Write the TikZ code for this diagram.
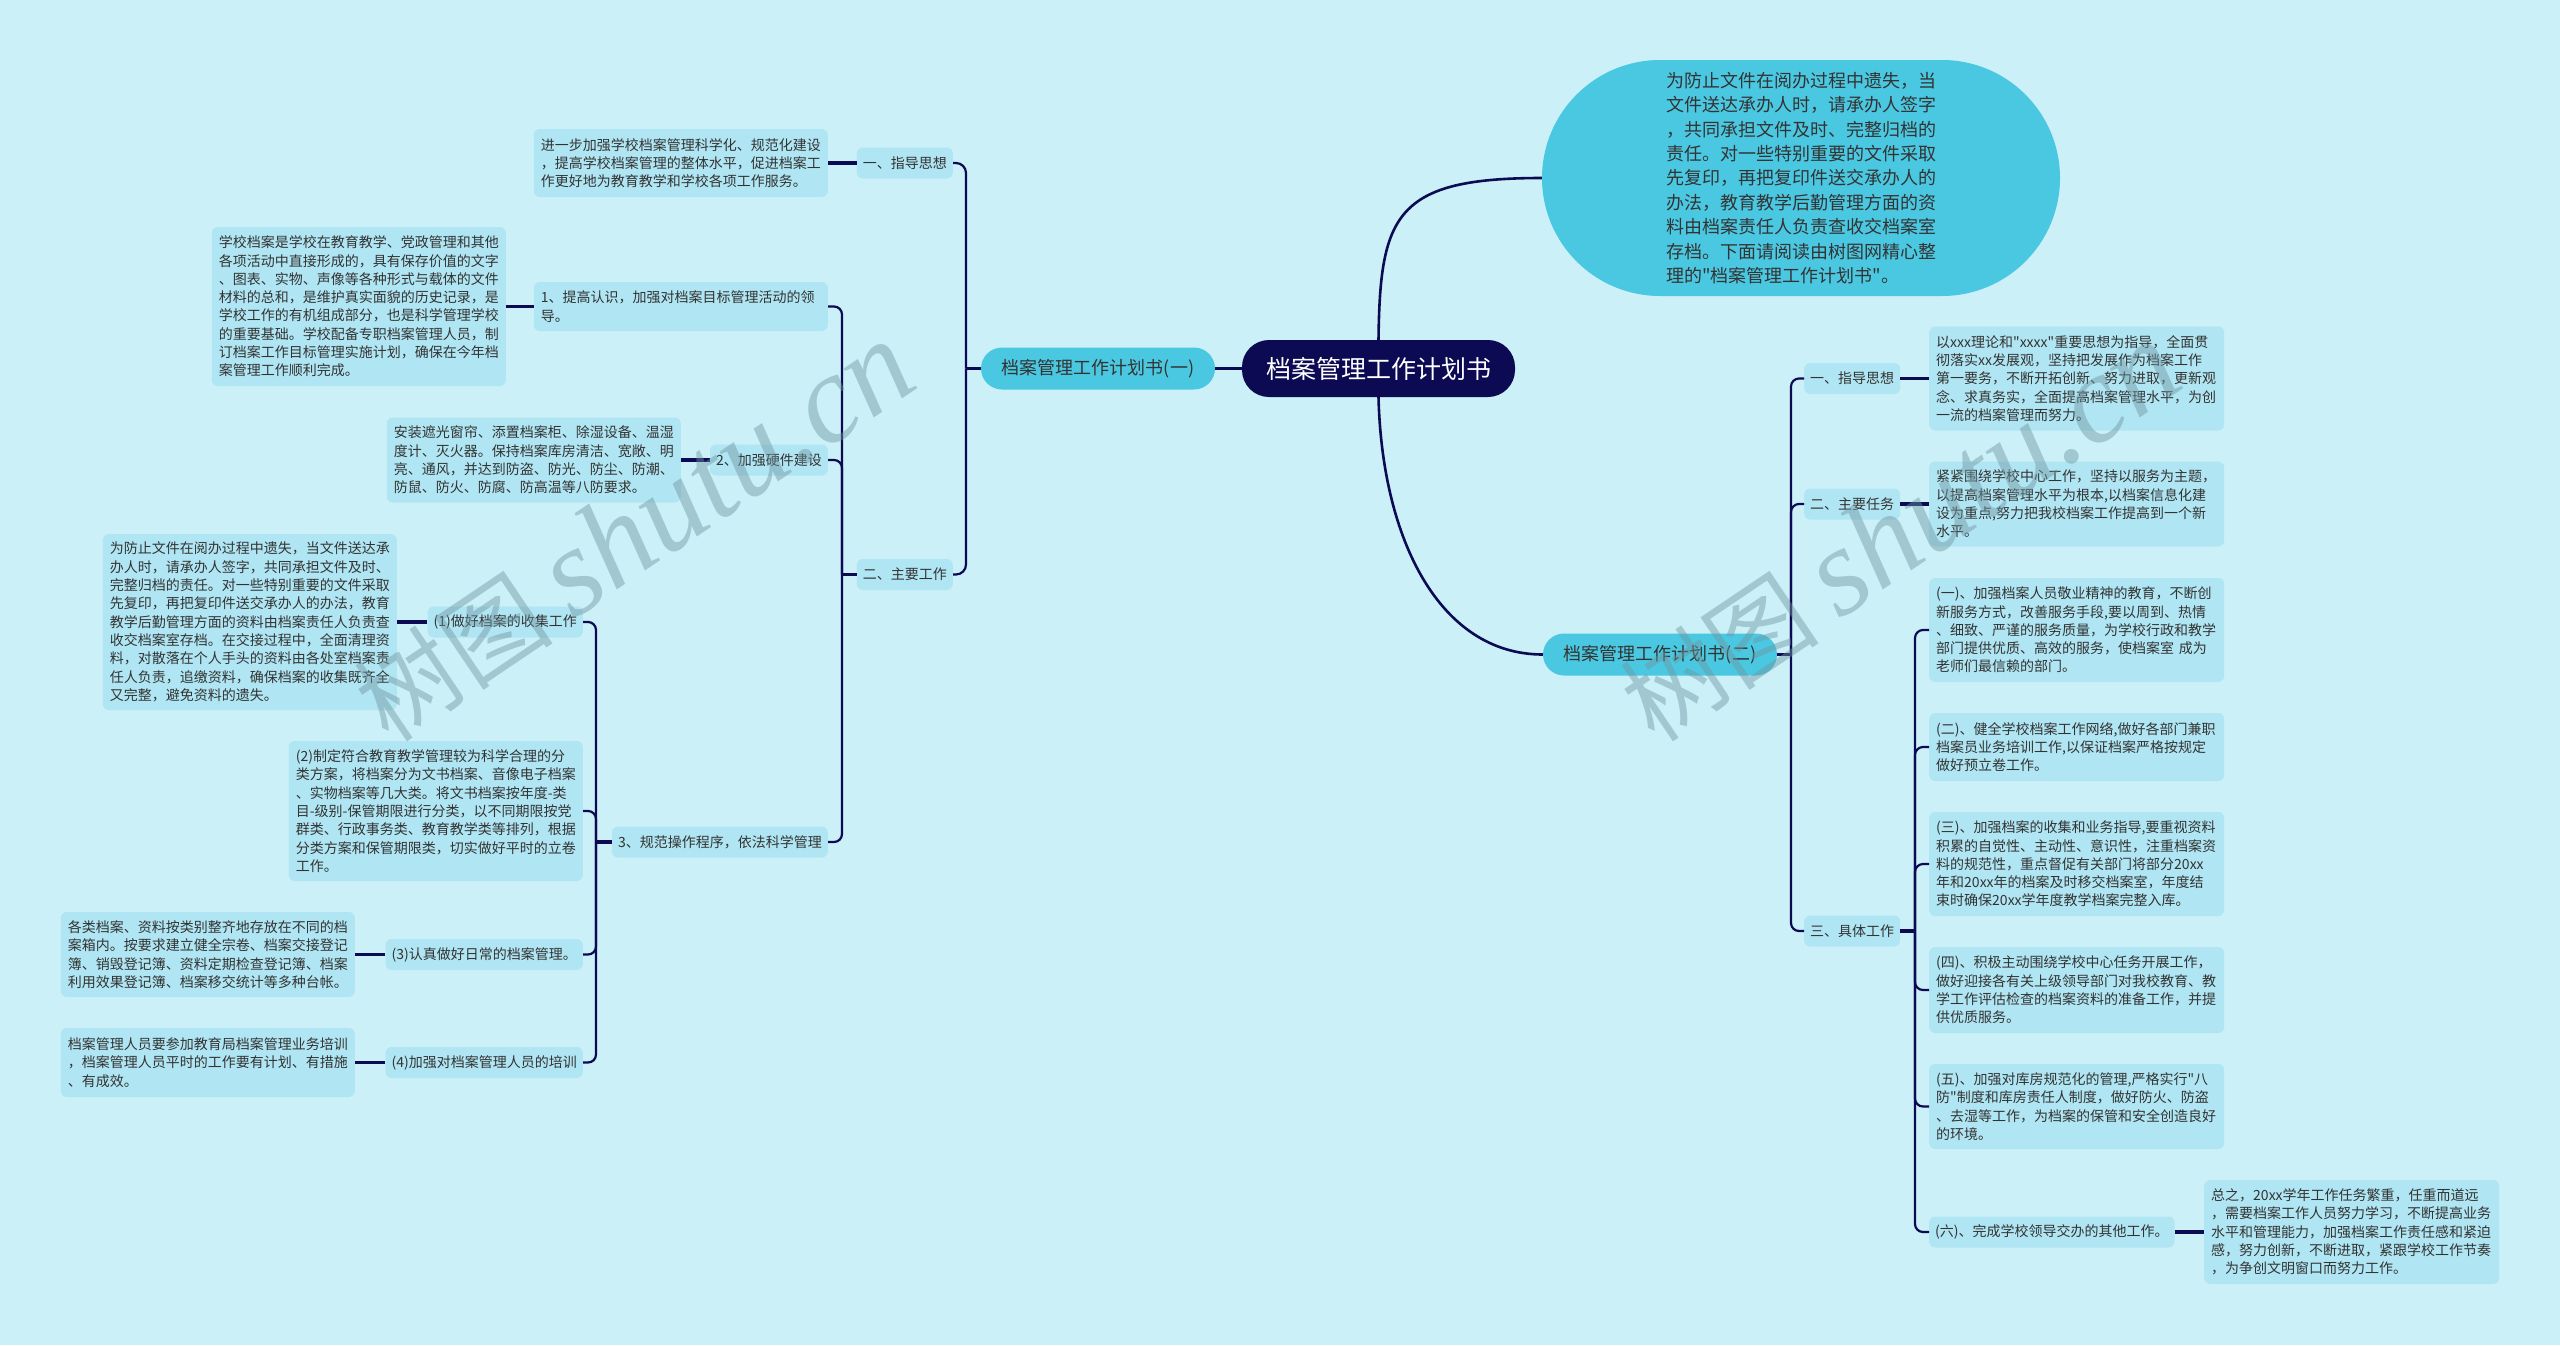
\documentclass[tikz,border=0pt]{standalone}
\usepackage{fontspec}
\setmainfont[Ligatures=TeXOff]{Noto Sans CJK SC}
\newfontfamily\wmlat{Liberation Serif}
\definecolor{bg}{RGB}{203,240,248}
\definecolor{leafc}{RGB}{176,230,243}
\definecolor{lvlc}{RGB}{75,200,225}
\definecolor{navy}{RGB}{12,10,82}
\definecolor{txt}{RGB}{51,51,51}
\definecolor{wm}{RGB}{110,150,160}
\tikzset{
 leafbox/.style={fill=leafc, rounded corners=6pt, text=txt, align=left, inner xsep=7pt, inner ysep=0pt, font=\fontsize{14pt}{18.3pt}\selectfont},
 sub/.style={fill=leafc, rounded corners=6pt, text=txt, inner xsep=6pt, inner ysep=0pt, minimum height=31pt, font=\fontsize{14pt}{18pt}\selectfont},
 lvlone/.style={fill=lvlc, rounded corners=21pt, text=txt, minimum width=234pt, minimum height=42pt, font=\fontsize{18pt}{22pt}\selectfont},
 rootbox/.style={fill=navy, rounded corners=27pt, text=white, minimum width=273pt, minimum height=57pt, font=\fontsize{25pt}{30pt}\selectfont},
 bubble/.style={fill=lvlc, rounded corners=118pt, text=txt, minimum width=518pt, minimum height=236pt, align=left, font=\fontsize{18pt}{24.4pt}\selectfont},
 conn/.style={draw=navy, line width=2.2pt},
 branch/.style={draw=navy, line width=2.6pt},
 stub/.style={draw=navy, line width=3.4pt},
 wmark/.style={text=wm, opacity=0.45, rotate=34, anchor=west, inner sep=0pt},
}
\begin{document}
\begin{tikzpicture}[x=1pt,y=-1pt]
\fill[bg] (0,0) rectangle (2560,1345);
\useasboundingbox (0,0) rectangle (2560,1345);

% root and level one
\node[rootbox] (root) at (1378.5,368.5) {档案管理工作计划书};
\node[lvlone] (n1) at (1098,368.5) {档案管理工作计划书(一)};
\node[lvlone] (n2) at (1660,654.5) {档案管理工作计划书(二)};
\node[bubble] (bub) at (1801,178) {为防止文件在阅办过程中遗失，当\\文件送达承办人时，请承办人签字\\，共同承担文件及时、完整归档的\\责任。对一些特别重要的文件采取\\先复印，再把复印件送交承办人的\\办法，教育教学后勤管理方面的资\\料由档案责任人负责查收交档案室\\存档。下面请阅读由树图网精心整\\理的"档案管理工作计划书"。};

% left side
\node[sub, anchor=east] (lg) at (953,163) {一、指导思想};
\node[leafbox, anchor=east, text width=280pt, minimum height=68pt] (la) at (828,163) {进一步加强学校档案管理科学化、规范化建设\\，提高学校档案管理的整体水平，促进档案工\\作更好地为教育教学和学校各项工作服务。};
\node[sub, anchor=east] (lm) at (953,574.5) {二、主要工作};

\node[leafbox, anchor=east, text width=280pt, minimum height=49pt] (s1) at (828,306.5) {1、提高认识，加强对档案目标管理活动的领\\导。};
\node[leafbox, anchor=east, text width=280pt, minimum height=159pt] (s1l) at (506,306.5) {学校档案是学校在教育教学、党政管理和其他\\各项活动中直接形成的，具有保存价值的文字\\、图表、实物、声像等各种形式与载体的文件\\材料的总和，是维护真实面貌的历史记录，是\\学校工作的有机组成部分，也是科学管理学校\\的重要基础。学校配备专职档案管理人员，制\\订档案工作目标管理实施计划，确保在今年档\\案管理工作顺利完成。};
\node[sub, anchor=east] (s2) at (828,460) {2、加强硬件建设};
\node[leafbox, anchor=east, text width=280pt, minimum height=85pt] (s2l) at (681,460) {安装遮光窗帘、添置档案柜、除湿设备、温湿\\度计、灭火器。保持档案库房清洁、宽敞、明\\亮、通风，并达到防盗、防光、防尘、防潮、\\防鼠、防火、防腐、防高温等八防要求。};
\node[sub, anchor=east] (s3) at (828,842) {3、规范操作程序，依法科学管理};

\node[sub, anchor=east] (t1) at (583,622) {(1)做好档案的收集工作};
\node[leafbox, anchor=east, text width=280pt, minimum height=176pt] (t1l) at (397,622) {为防止文件在阅办过程中遗失，当文件送达承\\办人时，请承办人签字，共同承担文件及时、\\完整归档的责任。对一些特别重要的文件采取\\先复印，再把复印件送交承办人的办法，教育\\教学后勤管理方面的资料由档案责任人负责查\\收交档案室存档。在交接过程中，全面清理资\\料，对散落在个人手头的资料由各处室档案责\\任人负责，追缴资料，确保档案的收集既齐全\\又完整，避免资料的遗失。};
\node[leafbox, anchor=east, text width=280pt, minimum height=140pt] (t2) at (583,811) {(2)制定符合教育教学管理较为科学合理的分\\类方案，将档案分为文书档案、音像电子档案\\、实物档案等几大类。将文书档案按年度-类\\目-级别-保管期限进行分类，以不同期限按党\\群类、行政事务类、教育教学类等排列，根据\\分类方案和保管期限类，切实做好平时的立卷\\工作。};
\node[sub, anchor=east] (t3) at (583,954.5) {(3)认真做好日常的档案管理。};
\node[leafbox, anchor=east, text width=280pt, minimum height=85pt] (t3l) at (355,954.5) {各类档案、资料按类别整齐地存放在不同的档\\案箱内。按要求建立健全宗卷、档案交接登记\\簿、销毁登记簿、资料定期检查登记簿、档案\\利用效果登记簿、档案移交统计等多种台帐。};
\node[sub, anchor=east] (t4) at (583,1062.5) {(4)加强对档案管理人员的培训};
\node[leafbox, anchor=east, text width=280pt, minimum height=69pt] (t4l) at (355,1062.5) {档案管理人员要参加教育局档案管理业务培训\\，档案管理人员平时的工作要有计划、有措施\\、有成效。};

% right side
\node[sub, anchor=west] (r1) at (1804,378.5) {一、指导思想};
\node[leafbox, anchor=west, text width=281pt, minimum height=104pt] (r1l) at (1929,378.5) {以xxx理论和"xxxx"重要思想为指导，全面贯\\彻落实xx发展观，坚持把发展作为档案工作\\第一要务，不断开拓创新、努力进取，更新观\\念、求真务实，全面提高档案管理水平，为创\\一流的档案管理而努力。};
\node[sub, anchor=west] (r2) at (1804,504) {二、主要任务};
\node[leafbox, anchor=west, text width=281pt, minimum height=85pt] (r2l) at (1929,504) {紧紧围绕学校中心工作，坚持以服务为主题，\\以提高档案管理水平为根本,以档案信息化建\\设为重点,努力把我校档案工作提高到一个新\\水平。};
\node[sub, anchor=west] (r3) at (1804,931) {三、具体工作};

\node[leafbox, anchor=west, text width=281pt, minimum height=104pt] (u1) at (1929,630) {(一)、加强档案人员敬业精神的教育，不断创\\新服务方式，改善服务手段,要以周到、热情\\、细致、严谨的服务质量，为学校行政和教学\\部门提供优质、高效的服务，使档案室 成为\\老师们最信赖的部门。};
\node[leafbox, anchor=west, text width=281pt, minimum height=68pt] (u2) at (1929,747) {(二)、健全学校档案工作网络,做好各部门兼职\\档案员业务培训工作,以保证档案严格按规定\\做好预立卷工作。};
\node[leafbox, anchor=west, text width=281pt, minimum height=104pt] (u3) at (1929,864) {(三)、加强档案的收集和业务指导,要重视资料\\积累的自觉性、主动性、意识性，注重档案资\\料的规范性，重点督促有关部门将部分20xx\\年和20xx年的档案及时移交档案室，年度结\\束时确保20xx学年度教学档案完整入库。};
\node[leafbox, anchor=west, text width=281pt, minimum height=86pt] (u4) at (1929,990) {(四)、积极主动围绕学校中心任务开展工作，\\做好迎接各有关上级领导部门对我校教育、教\\学工作评估检查的档案资料的准备工作，并提\\供优质服务。};
\node[leafbox, anchor=west, text width=281pt, minimum height=85pt] (u5) at (1929,1106.5) {(五)、加强对库房规范化的管理,严格实行"八\\防"制度和库房责任人制度，做好防火、防盗\\、去湿等工作，为档案的保管和安全创造良好\\的环境。};
\node[sub, anchor=west] (u6) at (1929,1232) {(六)、完成学校领导交办的其他工作。};
\node[leafbox, anchor=west, text width=281pt, minimum height=104pt] (u6l) at (2204,1232) {总之，20xx学年工作任务繁重，任重而道远\\，需要档案工作人员努力学习，不断提高业务\\水平和管理能力，加强档案工作责任感和紧迫\\感，努力创新，不断进取，紧跟学校工作节奏\\，为争创文明窗口而努力工作。};

% trunk coordinates
\coordinate (tn1) at (966,368.5);
\coordinate (tlm) at (842,574.5);
\coordinate (ts3) at (596,842);
\coordinate (tn2) at (1791,654.5);
\coordinate (tr3) at (1915,931);

% root connectors
\draw[stub] (root.west) -- (n1.east);
\draw[branch] (root.north) .. controls (1380,215) and (1395,178) .. (bub.west);
\draw[branch] (root.south) .. controls (1382,540) and (1440,654.5) .. (n2.west);

% left connectors
\draw[stub] (n1.west) -- (tn1);
\draw[conn, rounded corners=10pt] (tn1) |- (lg.east);
\draw[conn, rounded corners=10pt] (tn1) |- (lm.east);
\draw[stub] (lg.west) -- (la.east);

\draw[stub] (lm.west) -- (tlm);
\draw[conn, rounded corners=8pt] (tlm) |- (s1.east);
\draw[conn, rounded corners=8pt] (tlm) |- (s2.east);
\draw[conn, rounded corners=8pt] (tlm) |- (s3.east);
\draw[stub] (s1.west) -- (s1l.east);
\draw[stub] (s2.west) -- (s2l.east);

\draw[stub] (s3.west) -- (ts3);
\draw[conn, rounded corners=8pt] (ts3) |- (t1.east);
\draw[conn, rounded corners=8pt] (ts3) |- (t2.east);
\draw[conn, rounded corners=8pt] (ts3) |- (t3.east);
\draw[conn, rounded corners=8pt] (ts3) |- (t4.east);
\draw[stub] (t1.west) -- (t1l.east);
\draw[stub] (t3.west) -- (t3l.east);
\draw[stub] (t4.west) -- (t4l.east);

% right connectors
\draw[stub] (n2.east) -- (tn2);
\draw[conn, rounded corners=8pt] (tn2) |- (r1.west);
\draw[conn, rounded corners=8pt] (tn2) |- (r2.west);
\draw[conn, rounded corners=8pt] (tn2) |- (r3.west);
\draw[stub] (r1.east) -- (r1l.west);
\draw[stub] (r2.east) -- (r2l.west);

\draw[stub] (r3.east) -- (tr3);
\draw[conn, rounded corners=8pt] (tr3) |- (u1.west);
\draw[conn, rounded corners=8pt] (tr3) |- (u2.west);
\draw[conn, rounded corners=8pt] (tr3) |- (u3.west);
\draw[conn, rounded corners=8pt] (tr3) |- (u4.west);
\draw[conn, rounded corners=8pt] (tr3) |- (u5.west);
\draw[conn, rounded corners=8pt] (tr3) |- (u6.west);
\draw[stub] (u6.east) -- (u6l.west);

% watermarks
\node[wmark] (wm1) at (367,712) {\fontsize{100pt}{100pt}\selectfont 树图 {\wmlat\itshape\fontsize{125pt}{125pt}\selectfont shutu.cn}};
\node[wmark] (wm2) at (1633,712) {\fontsize{100pt}{100pt}\selectfont 树图 {\wmlat\itshape\fontsize{125pt}{125pt}\selectfont shutu.cn}};
\end{tikzpicture}
\end{document}
